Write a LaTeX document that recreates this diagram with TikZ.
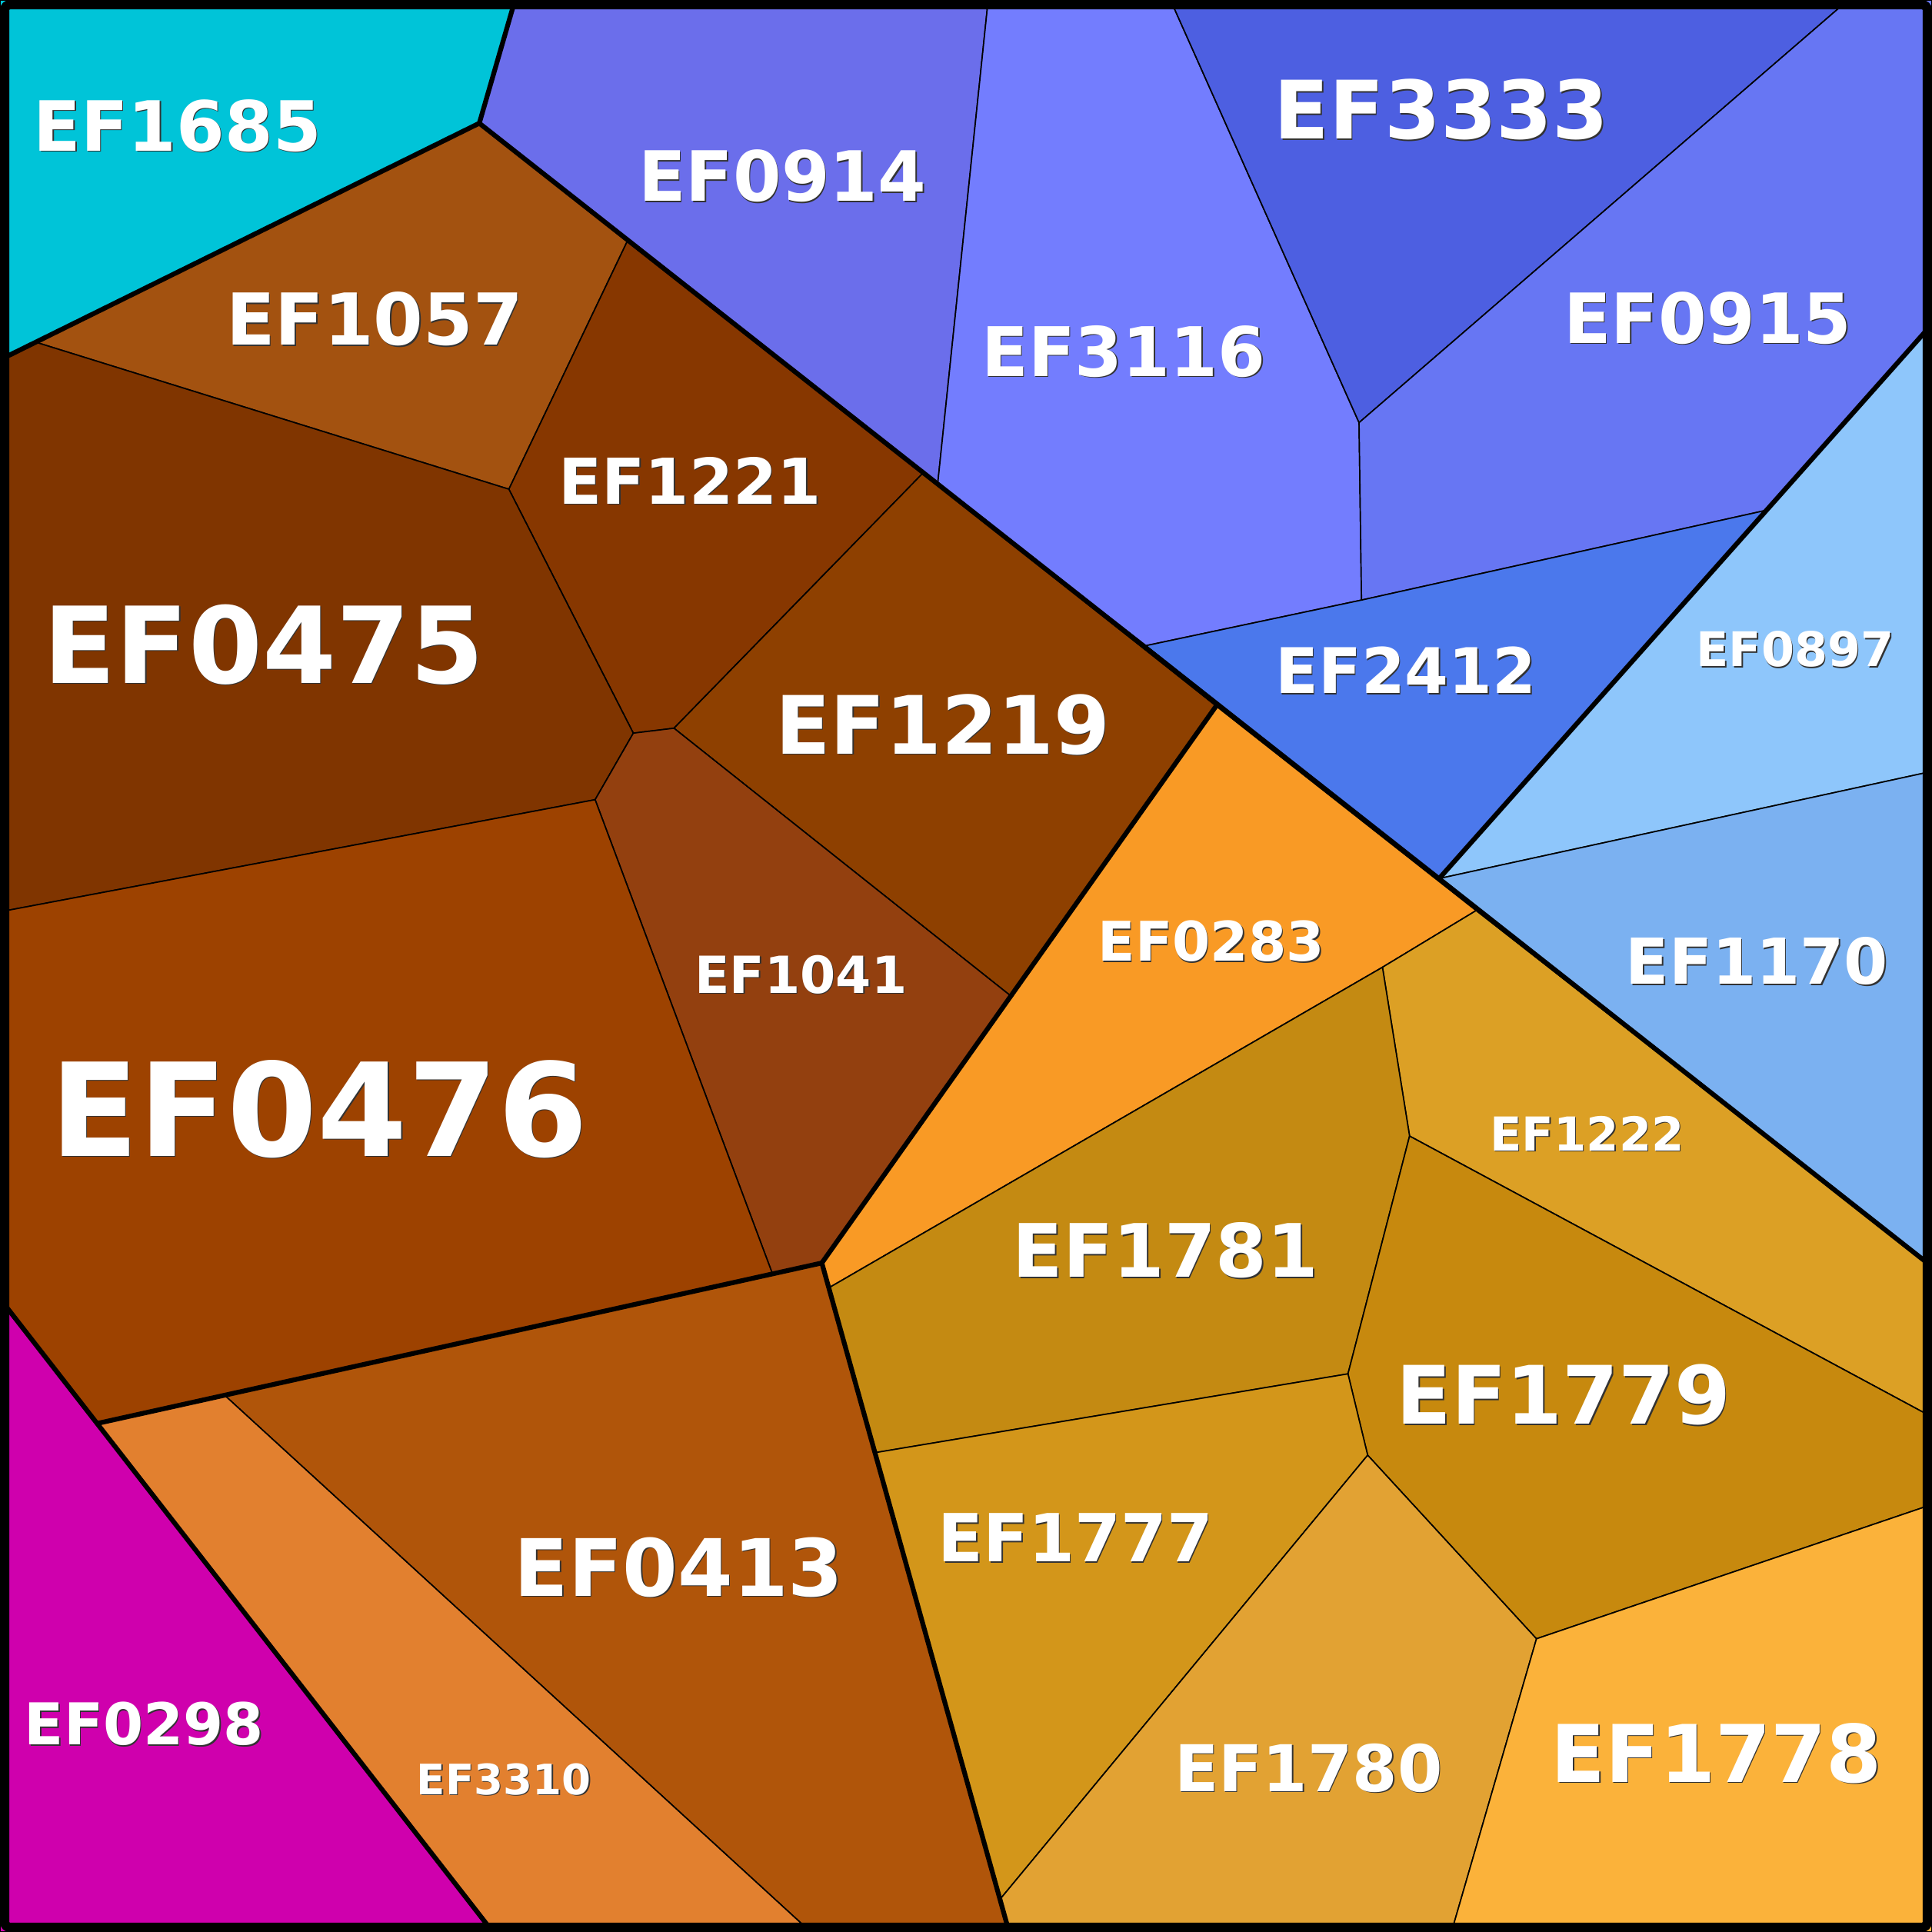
\documentclass[tikz,border=0pt]{standalone}
\usepackage{fontspec}
\setmainfont{DejaVu Sans}
\definecolor{cA}{HTML}{00C4D8}
\definecolor{cB}{HTML}{6B6EEB}
\definecolor{cC}{HTML}{737DFE}
\definecolor{cD}{HTML}{4D5FE1}
\definecolor{cE}{HTML}{6776F3}
\definecolor{cF}{HTML}{4B78EC}
\definecolor{cG}{HTML}{8EC6FB}
\definecolor{cH}{HTML}{7BB1F1}
\definecolor{cI}{HTML}{A35210}
\definecolor{cJ}{HTML}{873700}
\definecolor{cK}{HTML}{803500}
\definecolor{cL}{HTML}{8E4000}
\definecolor{cM}{HTML}{93400F}
\definecolor{cN}{HTML}{9D4200}
\definecolor{cO}{HTML}{B0550A}
\definecolor{cP}{HTML}{E2802F}
\definecolor{cQ}{HTML}{CF00AD}
\definecolor{cR}{HTML}{F99A25}
\definecolor{cS}{HTML}{DCA025}
\definecolor{cT}{HTML}{C48A12}
\definecolor{cU}{HTML}{C7890E}
\definecolor{cV}{HTML}{D3961A}
\definecolor{cW}{HTML}{E2A233}
\definecolor{cX}{HTML}{FBB23A}
\tikzset{
  cell/.style={draw=black,line width=0.3pt,line join=round},
  thick line/.style={draw=black,line width=1.1pt,line join=round,line cap=round},
  frame/.style={draw=black,line width=2.15pt,rounded corners=1.2pt},
  lbl/.style={text=white,inner sep=0pt,font=\bfseries},
  lblshadow/.style={text=black!80,inner sep=0pt,font=\bfseries}
}
\newcommand{\celllabel}[4]{%
  \node[lblshadow] (#1s) at (#2+0.9,#3+0.9) {\fontsize{#4}{#4}\selectfont\bfseries #1};
  \node[lbl] (#1) at (#2,#3) {\fontsize{#4}{#4}\selectfont\bfseries #1};}
\begin{document}
\begin{tikzpicture}[x=0.01cm,y=-0.01cm]
\useasboundingbox (0,0) rectangle (1568,1568);
% vertices
\coordinate (a1) at (418,0);
\coordinate (B) at (389,100);
\coordinate (C) at (0,292);
\coordinate (t2) at (802,0);
\coordinate (t3) at (950,0);
\coordinate (t4) at (1500,0);
\coordinate (P1) at (761,393);
\coordinate (P2) at (1103,343);
\coordinate (P3) at (1105,487);
\coordinate (P4) at (930,524);
\coordinate (P5) at (1434,414);
\coordinate (r1) at (1568,263);
\coordinate (P6) at (1168,713);
\coordinate (r2) at (1568,626);
\coordinate (r3) at (1568,1028);
\coordinate (P7) at (1198,739);
\coordinate (P8) at (987,573);
\coordinate (P9) at (509,196);
\coordinate (P10) at (413,397);
\coordinate (P11) at (30,278);
\coordinate (P12) at (749,384);
\coordinate (P13) at (547,591);
\coordinate (P14) at (514,595);
\coordinate (P15) at (483,649);
\coordinate (l1) at (0,740);
\coordinate (P16) at (820,808);
\coordinate (P17) at (667,1025);
\coordinate (P18) at (627,1034);
\coordinate (P19) at (80,1155);
\coordinate (l2) at (0,1054);
\coordinate (b1) at (400,1568);
\coordinate (P20) at (183,1133);
\coordinate (b2) at (658,1568);
\coordinate (b3) at (819,1568);
\coordinate (P21) at (673,1045);
\coordinate (P22) at (1122,785);
\coordinate (P23) at (1144,922);
\coordinate (P24) at (1094,1115);
\coordinate (P25) at (710,1179);
\coordinate (P26) at (1110,1181);
\coordinate (P27) at (812,1541);
\coordinate (P28) at (1247,1330);
\coordinate (r4) at (1568,1150);
\coordinate (r5) at (1568,1221);
\coordinate (b4) at (1178,1568);
% cells
\path[cell,fill=cA] (0,0) -- (a1) -- (B) -- (C) -- cycle;
\path[cell,fill=cB] (a1) -- (t2) -- (P1) -- (B) -- cycle;
\path[cell,fill=cC] (t2) -- (t3) -- (P2) -- (P3) -- (P4) -- (P1) -- cycle;
\path[cell,fill=cD] (t3) -- (t4) -- (P2) -- cycle;
\path[cell,fill=cE] (t4) -- (1568,0) -- (r1) -- (P5) -- (P3) -- (P2) -- cycle;
\path[cell,fill=cF] (P4) -- (P3) -- (P5) -- (P6) -- cycle;
\path[cell,fill=cG] (P5) -- (r1) -- (r2) -- (P6) -- cycle;
\path[cell,fill=cH] (P6) -- (r2) -- (r3) -- cycle;
\path[cell,fill=cI] (B) -- (P9) -- (P10) -- (P11) -- cycle;
\path[cell,fill=cJ] (P9) -- (P12) -- (P13) -- (P14) -- (P10) -- cycle;
\path[cell,fill=cK] (C) -- (P11) -- (P10) -- (P14) -- (P15) -- (l1) -- cycle;
\path[cell,fill=cL] (P12) -- (P8) -- (P16) -- (P13) -- cycle;
\path[cell,fill=cM] (P14) -- (P13) -- (P16) -- (P17) -- (P18) -- (P15) -- cycle;
\path[cell,fill=cN] (l1) -- (P15) -- (P18) -- (P19) -- (l2) -- cycle;
\path[cell,fill=cO] (P17) -- (b3) -- (b2) -- (P20) -- (P18) -- cycle;
\path[cell,fill=cP] (P19) -- (P20) -- (b2) -- (b1) -- cycle;
\path[cell,fill=cQ] (l2) -- (b1) -- (0,1568) -- cycle;
\path[cell,fill=cR] (P8) -- (P7) -- (P22) -- (P21) -- (P17) -- cycle;
\path[cell,fill=cS] (P7) -- (r3) -- (r4) -- (P23) -- (P22) -- cycle;
\path[cell,fill=cT] (P22) -- (P23) -- (P24) -- (P25) -- (P21) -- cycle;
\path[cell,fill=cU] (P23) -- (r4) -- (r5) -- (P28) -- (P26) -- (P24) -- cycle;
\path[cell,fill=cV] (P25) -- (P24) -- (P26) -- (P27) -- cycle;
\path[cell,fill=cW] (P27) -- (P26) -- (P28) -- (b4) -- (b3) -- cycle;
\path[cell,fill=cX] (P28) -- (r5) -- (1568,1568) -- (b4) -- cycle;
% group borders
\draw[thick line] (a1) -- (B) -- (C);
\draw[thick line] (B) -- (r3);
\draw[thick line] (P8) -- (P17) -- (b3);
\draw[thick line] (P17) -- (P19);
\draw[thick line] (l2) -- (b1);
\draw[thick line] (r1) -- (P6);
% frame
\draw[frame] (3.8,3.8) rectangle (1564.2,1564.2);
% labels
\celllabel{EF1685}{144}{102}{16}
\celllabel{EF0914}{635}{143}{16}
\celllabel{EF3333}{1170}{89}{18.6}
\celllabel{EF1057}{304}{259}{16.5}
\celllabel{EF3116}{912}{285}{15.8}
\celllabel{EF0915}{1386}{258}{16}
\celllabel{EF1221}{560}{390}{14.6}
\celllabel{EF0475}{214}{523}{24.5}
\celllabel{EF1219}{765}{588}{18.6}
\celllabel{EF2412}{1141}{544}{14.5}
\celllabel{EF0897}{1457}{527}{11}
\celllabel{EF1041}{650}{791}{11.8}
\celllabel{EF0283}{983}{764}{12.6}
\celllabel{EF1170}{1426}{780}{14.6}
\celllabel{EF1222}{1288}{920}{10.8}
\celllabel{EF0476}{259}{900}{29.9}
\celllabel{EF1781}{946}{1015}{17}
\celllabel{EF1779}{1269}{1132}{18.6}
\celllabel{EF1777}{873}{1248}{15.3}
\celllabel{EF0413}{551}{1272}{18.3}
\celllabel{EF1780}{1062}{1435}{14.9}
\celllabel{EF1778}{1393}{1423}{18.4}
\celllabel{EF0298}{117}{1399}{13.3}
\celllabel{EF3310}{409}{1444}{9.7}
\end{tikzpicture}
\end{document}
